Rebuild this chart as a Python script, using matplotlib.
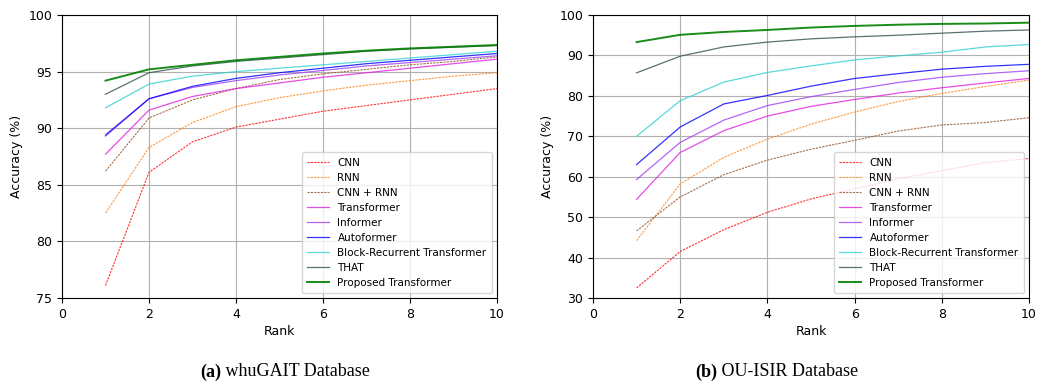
import numpy as np
from matplotlib import pyplot as plt

# rank 1..10
rank = [1, 2, 3, 4, 5, 6, 7, 8, 9, 10]

models = ['CNN', 'RNN', 'CNN + RNN', 'Transformer', 'Informer', 'Autoformer',
          'Block-Recurrent Transformer', 'THAT', 'Proposed Transformer']

# (a) whuGAIT
whu_cnn = [76.1, 86.1, 88.8, 90.1, 90.8, 91.5, 92.0, 92.5, 93.0, 93.5]
whu_rnn = [82.5, 88.3, 90.5, 91.9, 92.7, 93.3, 93.8, 94.2, 94.6, 94.9]
whu_cnnrnn = [86.2, 90.9, 92.5, 93.5, 94.3, 94.8, 95.2, 95.6, 95.9, 96.3]
whu_trans = [87.7, 91.6, 92.8, 93.5, 94.0, 94.5, 94.9, 95.3, 95.7, 96.1]
whu_inf = [89.3, 92.6, 93.6, 94.2, 94.7, 95.1, 95.5, 95.8, 96.1, 96.4]
whu_auto = [89.4, 92.6, 93.7, 94.4, 94.9, 95.3, 95.7, 96.0, 96.3, 96.6]
whu_brt = [91.8, 93.9, 94.6, 95.0, 95.3, 95.6, 95.9, 96.2, 96.5, 96.8]
whu_that = [93.0, 94.9, 95.5, 95.9, 96.2, 96.5, 96.8, 97.0, 97.15, 97.3]
whu_prop = [94.2, 95.2, 95.6, 96.0, 96.3, 96.6, 96.85, 97.05, 97.2, 97.35]

# (b) OU-ISIR
ou_cnn = [32.5, 41.5, 46.9, 51.2, 54.5, 57.0, 59.5, 61.5, 63.5, 64.5]
ou_rnn = [44.2, 58.2, 64.8, 69.3, 73.0, 76.0, 78.6, 80.6, 82.3, 83.9]
ou_cnnrnn = [46.6, 55.0, 60.5, 64.1, 66.8, 69.0, 71.3, 72.8, 73.4, 74.6]
ou_trans = [54.4, 66.0, 71.4, 75.0, 77.4, 79.1, 80.7, 82.0, 83.2, 84.3]
ou_inf = [59.3, 68.5, 74.0, 77.6, 79.8, 81.6, 83.3, 84.6, 85.5, 86.2]
ou_auto = [63.0, 72.3, 78.0, 80.1, 82.4, 84.3, 85.5, 86.6, 87.3, 87.8]
ou_brt = [70.0, 78.8, 83.4, 85.8, 87.4, 88.9, 89.9, 90.8, 92.1, 92.7]
ou_that = [85.7, 89.8, 92.1, 93.3, 94.1, 94.6, 95.0, 95.5, 96.0, 96.3]
ou_prop = [93.3, 95.1, 95.8, 96.3, 96.9, 97.3, 97.6, 97.8, 97.9, 98.1]

whu = [whu_cnn, whu_rnn, whu_cnnrnn, whu_trans, whu_inf, whu_auto, whu_brt, whu_that, whu_prop]
ou = [ou_cnn, ou_rnn, ou_cnnrnn, ou_trans, ou_inf, ou_auto, ou_brt, ou_that, ou_prop]

colors = ['red', '#ff7f0e', '#8c4a1e', '#e020e0', '#a040f0', 'blue', '#30d0d0', '#2f4f4f', 'green']
styles = [(0, (2, 1)), (0, (2, 1)), (0, (2, 1)), '-', '-', '-', '-', '-', '-']
widths = [0.8, 0.8, 0.8, 0.9, 0.9, 0.9, 0.9, 0.9, 1.4]
alphas = [0.8, 0.8, 0.8, 0.8, 0.8, 0.8, 0.8, 0.8, 0.9]

fig = plt.figure(figsize=(10.37, 3.82), dpi=100)
ax1 = fig.add_axes([62/1037, 1-298/382, 435/1037, 283/382])
ax2 = fig.add_axes([593/1037, 1-298/382, 436/1037, 283/382])


def draw(ax, data, ylim, yticks):
    for d, m, c, s, w, a in zip(data, models, colors, styles, widths, alphas):
        ax.plot(rank, d, color=c, linestyle=s, linewidth=w, alpha=a, label=m)
    ax.set_xlim(0, 10)
    ax.set_ylim(*ylim)
    ax.set_yticks(yticks)
    ax.set_xticks([0, 2, 4, 6, 8, 10])
    ax.grid(True, color='#b0b0b0', linewidth=0.8)
    ax.tick_params(labelsize=9)
    ax.set_xlabel('Rank', fontsize=9, labelpad=3)
    ax.set_ylabel('Accuracy (%)', fontsize=9)
    ax.legend(loc='lower right', fontsize=7.5, labelspacing=0.48, handlelength=2.1,
              borderpad=0.5, framealpha=0.8)


draw(ax1, whu, (75, 100), [75, 80, 85, 90, 95, 100])
draw(ax2, ou, (30, 100), [30, 40, 50, 60, 70, 80, 90, 100])

# sub captions: bold tag followed by normal text
for x0, tag, rest in [(200/1037, '(a)', ' whuGAIT Database'),
                      (695/1037, '(b)', ' OU-ISIR Database')]:
    t = fig.text(x0, 1-372/382, tag, fontsize=13, family='Liberation Serif',
                 fontweight='bold', ha='left', va='center')
    ax1.annotate(rest, xy=(1, 0.5), xycoords=t, fontsize=13, family='Liberation Serif',
                 ha='left', va='center', annotation_clip=False)

fig.savefig('out.png', dpi=100)
